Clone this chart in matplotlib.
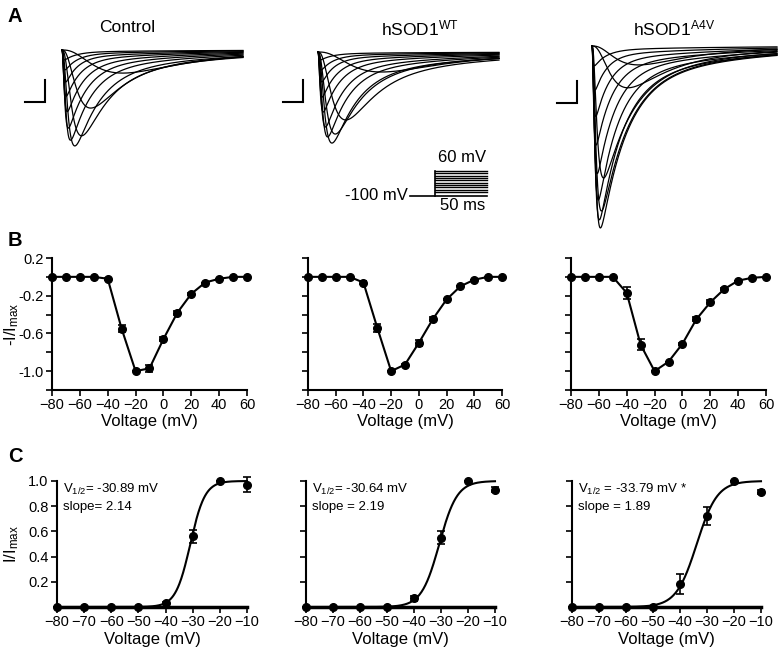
# Na+ current traces, I-V and activation curves (Control / hSOD1 WT / hSOD1 A4V)

import numpy as np
import matplotlib
matplotlib.use('Agg')
import matplotlib.pyplot as plt

plt.rcParams['font.family'] = ['Liberation Sans', 'DejaVu Sans']
plt.rcParams['mathtext.fontset'] = 'custom'
plt.rcParams['mathtext.rm'] = 'Liberation Sans'
plt.rcParams['mathtext.it'] = 'Liberation Sans:italic'
plt.rcParams['mathtext.bf'] = 'Liberation Sans:bold'

groups = ['Control', 'hSOD1$^{\\mathrm{WT}}$', 'hSOD1$^{\\mathrm{A4V}}$']

# panel A: per sweep time to peak (ms), peak amplitude (nA), inactivation tau (ms)
ctrl_tp = [2.65, 1.30, 0.90, 0.60, 0.40, 0.30, 0.25, 0.20, 0.18, 0.15, 0.12]
ctrl_amp = [1.05, 2.64, 3.90, 4.36, 4.10, 3.55, 2.80, 2.10, 1.45, 0.90, 0.45]
ctrl_th = [2.0, 1.5, 1.3, 1.2, 1.0, 0.9, 0.8, 0.7, 0.6, 0.6, 0.6]

wt_tp = [2.75, 1.25, 0.80, 0.65, 0.45, 0.35, 0.25, 0.20, 0.18, 0.15, 0.12]
wt_amp = [0.91, 3.09, 3.73, 4.14, 3.86, 3.41, 2.73, 2.05, 1.36, 0.82, 0.36]
wt_th = [2.0, 1.4, 1.3, 1.2, 1.0, 0.9, 0.8, 0.7, 0.6, 0.6, 0.6]

a4v_tp = [2.15, 1.65, 0.55, 0.45, 0.40, 0.35, 0.30, 0.25, 0.20, 0.18, 0.15, 0.12]
a4v_amp = [0.86, 1.90, 6.00, 7.50, 8.27, 7.90, 7.00, 5.80, 4.50, 3.20, 2.00, 0.90]
a4v_th = [2.2, 1.9, 1.4, 1.3, 1.25, 1.15, 1.0, 0.9, 0.8, 0.7, 0.6, 0.6]

# voltage protocol
hold_mv = -100
step_mv = [-75, -60, -45, -30, -15, 0, 15, 30, 45, 60]
step_ms = 50

# panel B: normalised I-V
iv_v = [-80, -70, -60, -50, -40, -30, -20, -10, 0, 10, 20, 30, 40, 50, 60]
iv_ctrl = [0, 0, 0, 0, -0.02, -0.55, -1.0, -0.97, -0.66, -0.38, -0.18, -0.06, -0.02, 0, 0]
iv_ctrl_err = [0, 0, 0, 0, 0.01, 0.04, 0, 0.04, 0.02, 0.02, 0.01, 0, 0, 0, 0]
iv_wt = [0, 0, 0, 0, -0.06, -0.54, -1.0, -0.93, -0.70, -0.45, -0.24, -0.10, -0.03, 0, 0]
iv_wt_err = [0, 0, 0, 0, 0.02, 0.04, 0, 0.01, 0.03, 0.02, 0.01, 0, 0, 0, 0]
iv_a4v = [0, 0, 0, 0, -0.17, -0.72, -1.0, -0.90, -0.71, -0.45, -0.27, -0.13, -0.04, -0.01, 0]
iv_a4v_err = [0, 0, 0, 0, 0.06, 0.06, 0, 0, 0.01, 0.02, 0.02, 0.01, 0, 0, 0]

# panel C: activation
act_v = [-80, -70, -60, -50, -40, -30, -20, -10]
act_ctrl = [0, 0, 0, 0, 0.03, 0.56, 1.0, 0.97]
act_ctrl_err = [0, 0, 0, 0, 0.01, 0.05, 0, 0.06]
act_wt = [0, 0, 0, 0, 0.07, 0.55, 1.0, 0.93]
act_wt_err = [0, 0, 0, 0, 0.02, 0.05, 0, 0.02]
act_a4v = [0, 0, 0, 0, 0.18, 0.72, 1.0, 0.91]
act_a4v_err = [0, 0, 0, 0, 0.08, 0.07, 0, 0.015]
vhalf = [-30.89, -30.64, -33.79]
slope = [2.14, 2.19, 1.89]
fit_k = [2.7, 3.3, 3.8]   # width of the drawn fit
fit_text = ['V$_{\\mathrm{1/2}}$= -30.89 mV\nslope= 2.14',
            'V$_{\\mathrm{1/2}}$= -30.64 mV\nslope = 2.19',
            'V$_{\\mathrm{1/2}}$ = -33.79 mV *\nslope = 1.89']

W, H = 778, 654
fig = plt.figure(figsize=(W / 100, H / 100), dpi=100)


def px_axes(l, t, r, b):
    return fig.add_axes([l / W, 1 - b / H, (r - l) / W, (b - t) / H])


def sweep(t, tp, amp, th):
    # m^3 h shaped sodium current with the given time to peak
    tm_grid = np.linspace(0.005, 3, 4000)
    tp_grid = tm_grid * np.log(1 + 3 * th / tm_grid)
    tm = np.interp(tp, tp_grid, tm_grid)
    w = (1 - np.exp(-t / tm)) ** 3 * (np.exp(-t / th) + 0.2 * np.exp(-t / 6.0))
    return -amp * w / w.max()


# ---- A: traces ----
trace_sets = [(ctrl_tp, ctrl_amp, ctrl_th), (wt_tp, wt_amp, wt_th), (a4v_tp, a4v_amp, a4v_th)]
trace_boxes = [(15, 35, 250, 160), (275, 35, 505, 160), (540, 35, 778, 240)]
t0_px = [62, 318, 592]
base_px = [50, 52, 46]
t_end = [9.05, 9.05, 9.25]
bar_corner = [(-0.85, -2.36), (-0.75, -2.27), (-0.75, -2.59)]
px_ms, px_na = 20.0, 22.0

for i in range(3):
    l, t, r, b = trace_boxes[i]
    ax = px_axes(l, t, r, b)
    ax.set_xlim((l - t0_px[i]) / px_ms, (r - t0_px[i]) / px_ms)
    ax.set_ylim((base_px[i] - b) / px_na, (base_px[i] - t) / px_na)
    ax.axis('off')
    tt = np.linspace(0, t_end[i], 1500)
    tps, amps, ths = trace_sets[i]
    for tp, amp, th in zip(tps, amps, ths):
        ax.plot(tt, sweep(tt, tp, amp, th), color='black', lw=0.9)
    cx, cy = bar_corner[i]
    ax.plot([cx - 1, cx, cx], [cy, cy, cy + 1], color='black', lw=1.5,
            solid_joinstyle='miter')

# voltage protocol
pax = px_axes(405, 165, 490, 200)
pax.set_xlim(-28.8, 52.9)
pax.set_ylim(-125.6, 98.4)
pax.axis('off')
pax.plot([-24, step_ms], [hold_mv, hold_mv], color='black', lw=1.2)
pax.plot([0, 0], [hold_mv, max(step_mv)], color='black', lw=1.2)
for v in step_mv:
    pax.plot([0, step_ms], [v, v], color='black', lw=1.0)

# ---- B: I-V ----
iv_sets = [(iv_ctrl, iv_ctrl_err), (iv_wt, iv_wt_err), (iv_a4v, iv_a4v_err)]
b_boxes = [(52, 258, 247, 390), (308, 258, 502, 390), (571, 258, 766, 390)]
for i in range(3):
    ax = px_axes(*b_boxes[i])
    y, e = iv_sets[i]
    ax.errorbar(iv_v, y, yerr=e, color='black', marker='o', ms=5.5, lw=1.5,
                elinewidth=1.2, capsize=3, capthick=1.2, clip_on=False, zorder=3)
    ax.set_xlim(-80, 60)
    ax.set_ylim(-1.2, 0.2)
    ax.set_xticks(range(-80, 61, 20))
    ax.set_yticks(np.arange(-1.2, 0.21, 0.2))
    if i == 0:
        ax.set_yticklabels(['', '-1.0', '', '-0.6', '', '-0.2', '', '0.2'])
        ax.set_ylabel('-I/I$_{\\mathrm{max}}$', fontsize=12)
        ax.yaxis.set_label_coords(-0.16, 0.5)
    else:
        ax.set_yticklabels([])
    ax.set_xlabel('Voltage (mV)', fontsize=12, labelpad=1)
    for s in ['top', 'right']:
        ax.spines[s].set_visible(False)
    for s in ['left', 'bottom']:
        ax.spines[s].set_linewidth(1.5)
    ax.tick_params(direction='out', length=4, width=1.2, labelsize=10.5, pad=2)

# ---- C: activation ----
act_sets = [(act_ctrl, act_ctrl_err), (act_wt, act_wt_err), (act_a4v, act_a4v_err)]
c_boxes = [(57, 481, 247, 607), (306, 481, 495, 607), (572, 481, 761, 607)]
vv = np.linspace(-80, -10, 400)
for i in range(3):
    ax = px_axes(*c_boxes[i])
    y, e = act_sets[i]
    ax.errorbar(act_v, y, yerr=e, color='black', marker='o', ms=5.5, ls='none',
                elinewidth=1.2, capsize=3, capthick=1.2, clip_on=False, zorder=3)
    ax.plot(vv, 1 / (1 + np.exp((vhalf[i] - vv) / fit_k[i])), color='black', lw=1.5,
            clip_on=False)
    ax.set_xlim(-80, -10)
    ax.set_ylim(0, 1.0)
    ax.set_xticks(act_v)
    ax.set_yticks([0.2, 0.4, 0.6, 0.8, 1.0])
    if i == 0:
        ax.set_yticklabels(['0.2', '0.4', '0.6', '0.8', '1.0'])
        ax.set_ylabel('I/I$_{\\mathrm{max}}$', fontsize=12)
        ax.yaxis.set_label_coords(-0.19, 0.5)
    else:
        ax.set_yticklabels([])
    ax.set_xlabel('Voltage (mV)', fontsize=12, labelpad=2)
    ax.text(0.03, 0.99, fit_text[i], transform=ax.transAxes, fontsize=9.5,
            va='top', ha='left', linespacing=1.45)
    for s in ['top', 'right']:
        ax.spines[s].set_visible(False)
    ax.spines['left'].set_linewidth(1.5)
    ax.spines['bottom'].set_linewidth(2.5)
    ax.tick_params(direction='out', length=4, width=1.2, labelsize=10.5, pad=2)

# ---- titles, panel letters, protocol labels ----
ov = fig.add_axes([0, 0, 1, 1])
ov.set_xlim(0, W)
ov.set_ylim(H, 0)
ov.axis('off')
for x, g in zip([127, 420, 674], groups):
    ov.text(x, 28, g, fontsize=12.5, ha='center', va='center')
for lab, y in zip('ABC', [16, 241, 456]):
    ov.text(15, y, lab, fontsize=14.5, fontweight='bold', ha='center', va='center')
ov.text(462, 158, '60 mV', fontsize=12, ha='center', va='center')
ov.text(463, 205, '50 ms', fontsize=12, ha='center', va='center')
ov.text(408, 196, '-100 mV', fontsize=12, ha='right', va='center')

fig.savefig('out.png', dpi=100)
